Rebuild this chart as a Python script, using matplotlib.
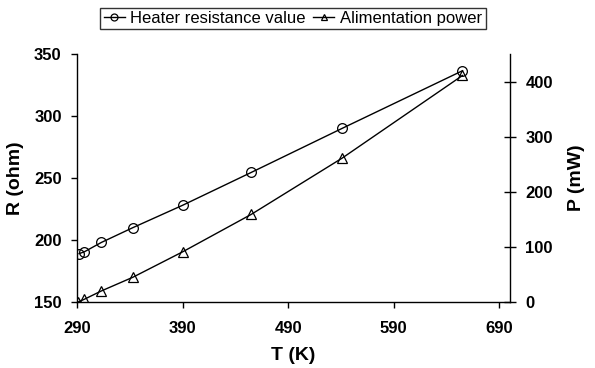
import matplotlib
matplotlib.use("Agg")
import matplotlib.pyplot as plt
from matplotlib.lines import Line2D

T = [292, 297, 313, 343, 390, 455, 541, 655]
R = [189, 190.5, 198, 210, 228, 254.5, 290, 336.5]
T_p = [291, 297, 313, 343, 390, 455, 541, 655]
P = [0, 5, 20, 45, 91, 159, 261, 411]

xticks = [290, 390, 490, 590, 690]
rticks = [150, 200, 250, 300, 350]
pticks = [0, 100, 200, 300, 400]

plt.rcParams['font.family'] = ['Liberation Sans', 'DejaVu Sans']

W, H = 595, 368
L, Rt, B, Tp = 77, 510, 302, 54
fig = plt.figure(figsize=(W/100, H/100), dpi=100)
ax = fig.add_axes([L/W, 1-B/H, (Rt-L)/W, (B-Tp)/H])
ax2 = ax.twinx()

ax.plot(T, R, color='black', lw=1.0, marker='o', ms=7, mfc='none', mec='black', mew=0.9,
        label='Heater resistance value')
ax2.plot(T_p, P, color='black', lw=1.0, marker='^', ms=7, mfc='none', mec='black', mew=0.9,
         label='Alimentation power')

ax.set_xlim(290, 700)
ax.set_ylim(150, 350)
ax2.set_ylim(0, 450)
ax.set_xticks(xticks)
ax.set_yticks(rticks)
ax2.set_yticks(pticks)

for a in (ax, ax2):
    a.spines['top'].set_visible(False)
ax.spines['right'].set_visible(False)
ax2.spines['left'].set_visible(False)
ax2.spines['bottom'].set_visible(False)
for s in ('left', 'bottom'):
    ax.spines[s].set_linewidth(1.0)
ax2.spines['right'].set_linewidth(1.0)

ax.tick_params(axis='x', direction='out', length=4.5, width=1.0, labelsize=12, pad=9.5)
ax.tick_params(axis='y', direction='out', length=4.5, width=1.0, labelsize=12, pad=6.5)
ax2.tick_params(axis='y', direction='inout', length=8, width=1.0, labelsize=12, pad=7)
for lab in ax.get_xticklabels() + ax.get_yticklabels() + ax2.get_yticklabels():
    lab.set_fontweight('bold')

xl = ax.set_xlabel('T (K)', fontsize=14, fontweight='bold')
yl = ax.set_ylabel('R (ohm)', fontsize=14, fontweight='bold')
pl = ax2.set_ylabel('P (mW)', fontsize=14, fontweight='bold')
ax.xaxis.set_label_coords((293-L)/(Rt-L), (B-356)/(B-Tp))
xl.set_va('center')
ax.yaxis.set_label_coords((15-L)/(Rt-L), 0.5)
yl.set_va('center')
ax2.yaxis.set_label_coords((576-L)/(Rt-L), 0.5)
pl.set_va('center')

handles = [Line2D([], [], color='black', lw=1.0, marker='o', ms=5, mfc='none', mew=0.9),
           Line2D([], [], color='black', lw=1.0, marker='^', ms=5, mfc='none', mew=0.9)]
leg = fig.legend(handles, ['Heater resistance value', 'Alimentation power'],
                 loc='center', bbox_to_anchor=(293/W, 1-18.5/H), ncol=2,
                 frameon=True, fancybox=False, edgecolor='black', fontsize=12,
                 handlelength=1.25, handletextpad=0.35, columnspacing=0.45,
                 borderpad=0.2, borderaxespad=0)
leg.get_frame().set_linewidth(1.0)

fig.savefig('out.png', dpi=100)
